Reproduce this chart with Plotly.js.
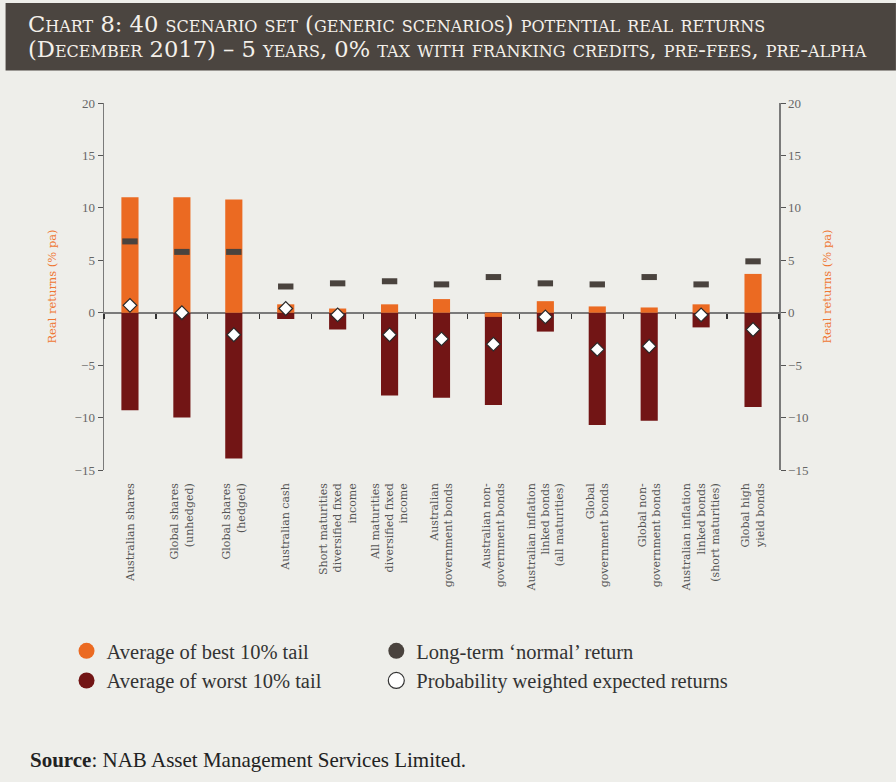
<!DOCTYPE html>
<html>
<head>
<meta charset="utf-8">
<script src="https://cdn.plot.ly/plotly-3.0.1.min.js"></script>
<style>
  html, body { margin: 0; padding: 0; background: #EEEEEA; }
  #chart { width: 896px; height: 782px; }
</style>
</head>
<body>
<div id="chart"></div>
<script>
// ---- Data ----
const categories = [
  "Australian shares",
  "Global shares<br>(unhedged)",
  "Global shares<br>(hedged)",
  "Australian cash",
  "Short maturities<br>diversified fixed<br>income",
  "All maturities<br>diversified fixed<br>income",
  "Australian<br>government bonds",
  "Australian non-<br>government bonds",
  "Australian inflation<br>linked bonds<br>(all maturities)",
  "Global<br>government bonds",
  "Global non-<br>government bonds",
  "Australian inflation<br>linked bonds<br>(short maturities)",
  "Global high<br>yield bonds"
];
const bestTail   = [11.0, 11.0, 10.8, 0.8, 0.4, 0.8, 1.3, -0.4, 1.1, 0.6, 0.5, 0.8, 3.7];
const worstTail  = [-9.3, -10.0, -13.9, -0.6, -1.6, -7.9, -8.1, -8.8, -1.8, -10.7, -10.3, -1.4, -9.0];
const normalRet  = [6.8, 5.8, 5.8, 2.5, 2.8, 3.0, 2.7, 3.4, 2.8, 2.7, 3.4, 2.7, 4.9];
const expectedRet= [0.7, 0.0, -2.1, 0.4, -0.2, -2.1, -2.5, -3.0, -0.4, -3.5, -3.2, -0.2, -1.6];
const yTicks = [20, 15, 10, 5, 0, -5, -10, -15];
const seriesNames = [
  "Average of best 10% tail",
  "Average of worst 10% tail",
  "Long-term \u2018normal\u2019 return",
  "Probability weighted expected returns"
];
const titleLine1 = "Chart 8: 40 scenario set (generic scenarios) potential real returns";
const titleLine2 = "(December 2017) \u2013 5 years, 0% tax with franking credits, pre-fees, pre-alpha";
const sourceText = "<b>Source</b>: NAB Asset Management Services Limited.";

// ---- Styles ----
const C_BEST = "#EB6A22", C_WORST = "#721515", C_NORMAL = "#4A433E", C_BG = "#EEEEEA";
const FONT = "Liberation Serif, DejaVu Serif, serif";
const SLAB = "DejaVu Serif, Liberation Serif, serif";
const W = 896, H = 782;
const M = {l: 103.5, r: 117, t: 103, b: 312};
const plotW = W - M.l - M.r, plotH = H - M.t - M.b;
const px = x => (x - M.l) / plotW;          // pixel -> paper x
const py = y => (H - M.b - y) / plotH;      // pixel -> paper y
const yMin = -15, yMax = 20;

const traces = [
  {type: "bar", x: categories, y: worstTail, width: 0.33, marker: {color: C_WORST},
   showlegend: false, name: seriesNames[1]},
  {type: "bar", x: categories, y: bestTail, width: 0.33, marker: {color: C_BEST},
   showlegend: false, name: seriesNames[0]},
  {type: "scatter", mode: "markers", x: categories, y: normalRet, xaxis: "x2", yaxis: "y2",
   marker: {symbol: "line-ew", size: 11, color: C_NORMAL, line: {color: C_NORMAL, width: 6}},
   showlegend: false, name: seriesNames[2]},
  {type: "scatter", mode: "markers", x: categories, y: expectedRet, xaxis: "x2", yaxis: "y2",
   marker: {symbol: "diamond", size: 10.5, color: "#FFFFFF", line: {color: "#2A2A2A", width: 1.2}},
   showlegend: false, name: seriesNames[3]},
];
// legend-only entries (circle swatches), two legends = two columns
const legendColors = [C_BEST, C_WORST, C_NORMAL, "#FFFFFF"];
seriesNames.forEach((n, i) => {
  traces.push({type: "scatter", mode: "markers", x: [null], y: [null], name: n,
    legend: i < 2 ? "legend" : "legend2", showlegend: true,
    marker: {symbol: "circle", size: 20, color: legendColors[i],
             line: {color: i === 3 ? "#333333" : legendColors[i], width: i === 3 ? 1.2 : 0}}});
});

const axisFont = {family: FONT, size: 13, color: "#666666"};
const yTitle = {text: "Real returns (% pa)", font: {family: SLAB, size: 11.5, color: "#EE7733"}, standoff: 15};
const legendBase = {
  orientation: "v", xanchor: "left", yanchor: "top", y: py(631),
  font: {family: FONT, size: 20.5, color: "#333333"},
  bgcolor: "rgba(0,0,0,0)", traceorder: "normal"
};
const layout = {
  width: W, height: H,
  margin: M,
  paper_bgcolor: C_BG, plot_bgcolor: C_BG,
  barmode: "overlay",
  showlegend: true,
  font: {family: FONT, color: "#333333"},
  xaxis: {
    type: "category", categoryorder: "array", categoryarray: categories,
    range: [-0.5, categories.length - 0.5],
    showline: false, ticks: "", showgrid: false, zeroline: false,
    tickangle: -90, tickfont: {family: SLAB, size: 11, color: "#555555"},
    ticklabelstandoff: 10, automargin: false
  },
  xaxis2: {
    type: "category", categoryorder: "array", categoryarray: categories,
    overlaying: "x", anchor: "free", position: (0 - yMin) / (yMax - yMin),
    range: [-0.5, categories.length - 0.5],
    showline: false, showgrid: false, zeroline: false, showticklabels: false,
    ticks: "outside", tickson: "boundaries", ticklen: 5, tickwidth: 1.2, tickcolor: "#333333",
    automargin: false
  },
  yaxis: {
    range: [yMin, yMax], tickvals: yTicks, showgrid: false,
    zeroline: true, zerolinecolor: "#7A7A7A", zerolinewidth: 2,
    showline: true, linecolor: "#7A7A7A", linewidth: 1.5,
    ticks: "outside", ticklen: 5, tickcolor: "#555555", tickwidth: 1,
    tickfont: axisFont, automargin: false, title: yTitle
  },
  yaxis2: {
    overlaying: "y", side: "right", anchor: "x",
    range: [yMin, yMax], tickvals: yTicks, showgrid: false, zeroline: false,
    showline: true, linecolor: "#7A7A7A", linewidth: 1.5,
    ticks: "outside", ticklen: 5, tickcolor: "#555555", tickwidth: 1,
    tickfont: axisFont, automargin: false, title: yTitle
  },
  legend: Object.assign({}, legendBase, {x: px(66)}),
  legend2: Object.assign({}, legendBase, {x: px(376)}),
  shapes: [
    {type: "rect", xref: "paper", yref: "paper", x0: px(5), x1: px(W), y0: py(3), y1: py(70.5),
     fillcolor: "#4B4540", line: {width: 0}, layer: "below"}
  ],
  annotations: [
    {xref: "paper", yref: "paper", x: px(25), y: py(24.5), xanchor: "left", yanchor: "middle",
     showarrow: false, text: titleLine1,
     font: {family: SLAB, size: 22.6, color: "#F4F0EA", variant: "small-caps"}},
    {xref: "paper", yref: "paper", x: px(25), y: py(49), xanchor: "left", yanchor: "middle",
     showarrow: false, text: titleLine2,
     font: {family: SLAB, size: 22.6, color: "#F4F0EA", variant: "small-caps"}},
    {xref: "paper", yref: "paper", x: px(27), y: py(760), xanchor: "left", yanchor: "middle",
     showarrow: false, text: sourceText,
     font: {family: FONT, size: 21, color: "#222222"}}
  ]
};

Plotly.newPlot("chart", traces, layout, {displayModeBar: false, staticPlot: true});
</script>
</body>
</html>
